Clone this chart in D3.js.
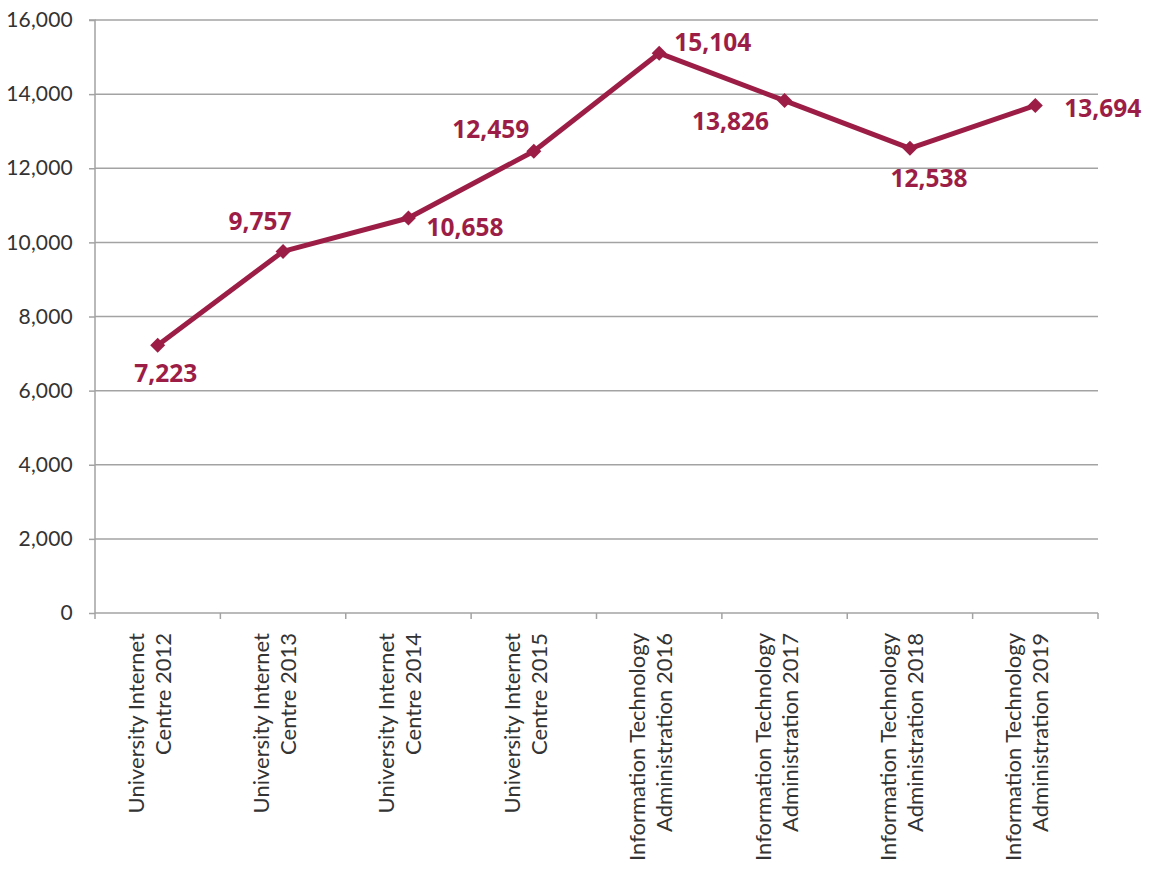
<!DOCTYPE html>
<html><head><meta charset="utf-8">
<script src="https://cdn.jsdelivr.net/npm/d3@7"></script>
<style>body{margin:0;background:#fff;}svg{display:block;}</style>
</head><body>
<script>
const categories = [
  ["University Internet","Centre 2012"],
  ["University Internet","Centre 2013"],
  ["University Internet","Centre 2014"],
  ["University Internet","Centre 2015"],
  ["Information Technology","Administration 2016"],
  ["Information Technology","Administration 2017"],
  ["Information Technology","Administration 2018"],
  ["Information Technology","Administration 2019"]
];
const values = [7223, 9757, 10658, 12459, 15104, 13826, 12538, 13694];
const yTicks = [0, 2000, 4000, 6000, 8000, 10000, 12000, 14000, 16000];
// label placement relative to each point: [dx, dy, anchor]
const labelOffsets = [
  [8, 37, "middle"],
  [-23, -21, "middle"],
  [18, 18, "start"],
  [-43, -13, "middle"],
  [15, -2, "start"],
  [-54, 29, "middle"],
  [19, 39, "middle"],
  [29, 12, "start"]
];

const W = 1154, H = 875;
const m = {left:95, right:56, top:20, bottom:262};
const color = "#9c1e46";
const grid = "#a3a3a3";
const svg = d3.select("body").append("svg").attr("width",W).attr("height",H);
const x = d3.scaleBand().domain(d3.range(categories.length)).range([m.left, W-m.right]);
const y = d3.scaleLinear().domain([0,16000]).range([H-m.bottom, m.top]);

// gridlines
svg.append("g").selectAll("line").data(yTicks.filter(d=>d>0)).join("line")
  .attr("x1",m.left).attr("x2",W-m.right).attr("y1",d=>y(d)).attr("y2",d=>y(d))
  .attr("stroke",grid).attr("stroke-width",1.5);

// y axis
const ya = svg.append("g").attr("transform",`translate(${m.left},0)`)
  .call(d3.axisLeft(y).tickValues(yTicks).tickSize(6).tickPadding(16).tickFormat(d3.format(",")));
ya.selectAll("path,line").attr("stroke",grid).attr("stroke-width",1.5);
ya.select(".domain").attr("d",`M-6,${y(16000)}H0V${y(0)}`);
ya.selectAll("text").attr("fill","#333").style("font-family","Lato, 'Open Sans', sans-serif")
  .style("font-size","21px").style("letter-spacing","0.2px");

// x axis
const xa = svg.append("g").attr("transform",`translate(0,${y(0)})`);
xa.append("line").attr("x1",m.left).attr("x2",W-m.right).attr("stroke",grid).attr("stroke-width",1.5);
const bounds = d3.range(categories.length+1).map(i=> i<categories.length ? x(i) : x(i-1)+x.bandwidth());
xa.selectAll("line.tk").data(bounds).join("line").attr("class","tk")
  .attr("x1",d=>d).attr("x2",d=>d).attr("y1",0).attr("y2",6).attr("stroke",grid).attr("stroke-width",1.5);
const lab = xa.selectAll("text").data(categories).join("text")
  .attr("transform",(d,i)=>`translate(${x(i)+x.bandwidth()/2},20) rotate(-90)`)
  .attr("text-anchor","end").attr("fill","#333")
  .style("font-family","Lato, 'Open Sans', sans-serif").style("font-size","22px");
lab.selectAll("tspan").data(d=>d).join("tspan")
  .attr("x",0).attr("y",(d,j)=> j===0 ? -14 : 13).text(d=>d);

// line
const cx = i => x(i)+x.bandwidth()/2;
svg.append("path").datum(values)
  .attr("d", d3.line().x((d,i)=>cx(i)).y(d=>y(d)))
  .attr("fill","none").attr("stroke",color).attr("stroke-width",5).attr("stroke-linejoin","round");

svg.append("g").selectAll("path").data(values).join("path")
  .attr("transform",(d,i)=>`translate(${cx(i)},${y(d)})`)
  .attr("d","M0,-7.5L7.5,0L0,7.5L-7.5,0Z").attr("fill",color);

// labels
const fmt = d3.format(",");
svg.append("g").selectAll("text").data(values).join("text")
  .attr("x",(d,i)=>cx(i)+labelOffsets[i][0])
  .attr("y",(d,i)=>y(d)+labelOffsets[i][1])
  .attr("text-anchor",(d,i)=>labelOffsets[i][2])
  .attr("fill",color).style("font-family","'Open Sans', sans-serif").style("font-weight","bold").style("font-size","24.5px")
  .text(d=>fmt(d));
</script>
</body></html>
